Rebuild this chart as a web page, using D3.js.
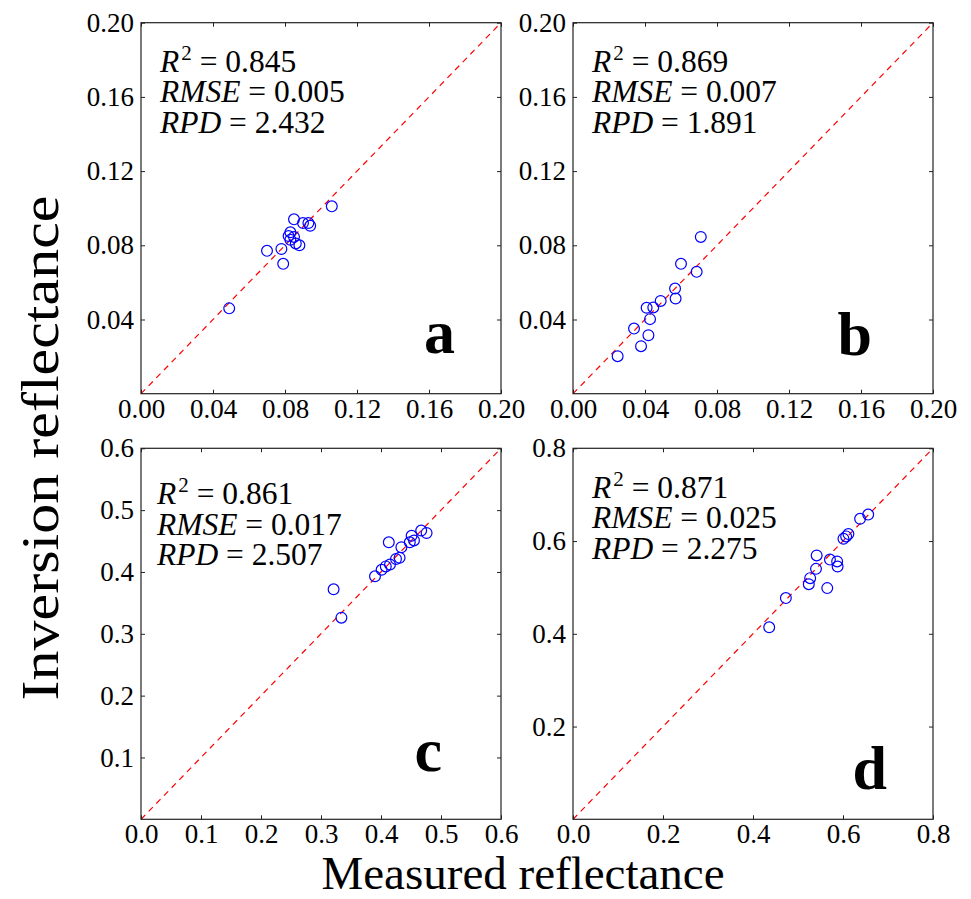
<!DOCTYPE html>
<html>
<head>
<meta charset="utf-8">
<script src="https://cdn.jsdelivr.net/npm/d3@7"></script>
<style>
  body { margin: 0; background: #fff; }
  svg text { font-family: "Liberation Serif", "Times New Roman", serif; fill: #000; }
</style>
</head>
<body>
<div id="chart"></div>
<script>
// measured vs inversion reflectance
const aMeasured  = [0.049, 0.070, 0.078, 0.079, 0.083, 0.082, 0.085, 0.083, 0.086, 0.088, 0.085, 0.090, 0.093, 0.094, 0.106];
const aInversion = [0.046, 0.077, 0.078, 0.070, 0.087, 0.085, 0.0845, 0.083, 0.081, 0.080, 0.094, 0.092, 0.092, 0.0905, 0.101];

const bMeasured  = [0.071, 0.060, 0.0687, 0.0567, 0.057, 0.0487, 0.0446, 0.0409, 0.0428, 0.0339, 0.0419, 0.0378, 0.0248];
const bInversion = [0.0845, 0.070, 0.0657, 0.0567, 0.0513, 0.050, 0.0465, 0.0463, 0.0402, 0.0351, 0.0315, 0.0256, 0.0202];

const cMeasured  = [0.321, 0.334, 0.390, 0.401, 0.408, 0.415, 0.425, 0.431, 0.413, 0.434, 0.448, 0.455, 0.451, 0.467, 0.476];
const cInversion = [0.372, 0.326, 0.393, 0.4035, 0.409, 0.412, 0.421, 0.423, 0.448, 0.440, 0.448, 0.451, 0.4585, 0.467, 0.463];

const dMeasured  = [0.436, 0.473, 0.524, 0.527, 0.540, 0.5415, 0.565, 0.571, 0.587, 0.588, 0.601, 0.607, 0.612, 0.638, 0.656];
const dInversion = [0.414, 0.477, 0.507, 0.520, 0.540, 0.569, 0.4985, 0.560, 0.556, 0.545, 0.605, 0.610, 0.615, 0.648, 0.657];

const abTicks = [0, 0.04, 0.08, 0.12, 0.16, 0.20];
const cTicks = [0, 0.1, 0.2, 0.3, 0.4, 0.5, 0.6];
const dTicks = [0, 0.2, 0.4, 0.6, 0.8];

const aStats = ["0.845", "0.005", "2.432"];
const bStats = ["0.869", "0.007", "1.891"];
const cStats = ["0.861", "0.017", "2.507"];
const dStats = ["0.871", "0.025", "2.275"];

const width = 971, height = 899;
const pw = 360, ph = 371;

const panels = [
  { letter: "a", x: 141, y: 22.7, mx: aMeasured, iy: aInversion, max: 0.2, ticks: abTicks, fmt: ".2f", stats: aStats, tx: 19, ty: 49, lx: 314, ly: 330 },
  { letter: "b", x: 573, y: 22.7, mx: bMeasured, iy: bInversion, max: 0.2, ticks: abTicks, fmt: ".2f", stats: bStats, tx: 19, ty: 49, lx: 299, ly: 332 },
  { letter: "c", x: 141, y: 448.3, mx: cMeasured, iy: cInversion, max: 0.6, ticks: cTicks, fmt: ".1f", stats: cStats, tx: 16, ty: 56, lx: 301, ly: 323 },
  { letter: "d", x: 573, y: 448.3, mx: dMeasured, iy: dInversion, max: 0.8, ticks: dTicks, fmt: ".1f", stats: dStats, tx: 19, ty: 49.5, lx: 314, ly: 341 }
];

const svg = d3.select("#chart").append("svg")
  .attr("width", width)
  .attr("height", height);

svg.append("rect").attr("width", width).attr("height", height).attr("fill", "#fff");

panels.forEach(p => {
  const g = svg.append("g").attr("transform", "translate(" + p.x + "," + p.y + ")");

  const x = d3.scaleLinear().domain([0, p.max]).range([0, pw]);
  const y = d3.scaleLinear().domain([0, p.max]).range([ph, 0]);
  const fmt = d3.format(p.fmt);
  const yTicks = p.ticks.slice(1); // no label at 0 on the y axis

  // 1:1 line
  g.append("line")
    .attr("x1", x(0)).attr("y1", y(0))
    .attr("x2", x(p.max)).attr("y2", y(p.max))
    .attr("stroke", "#ff0000")
    .attr("stroke-width", 1.2)
    .attr("stroke-dasharray", "6,5");

  // points
  g.selectAll(".pt")
    .data(p.mx.map((v, i) => [v, p.iy[i]]))
    .enter().append("circle")
    .attr("class", "pt")
    .attr("cx", d => x(d[0]))
    .attr("cy", d => y(d[1]))
    .attr("r", 5.4)
    .attr("fill", "none")
    .attr("stroke", "#0000ff")
    .attr("stroke-width", 1.2);

  // axes, ticks pointing inward on all sides
  const bottom = g.append("g").attr("transform", "translate(0," + ph + ")")
    .call(d3.axisBottom(x).tickValues(p.ticks).tickFormat(fmt).tickSizeInner(-4).tickSizeOuter(0).tickPadding(5));
  const left = g.append("g")
    .call(d3.axisLeft(y).tickValues(yTicks).tickFormat(fmt).tickSizeInner(-4).tickSizeOuter(0).tickPadding(7));
  g.append("g")
    .call(d3.axisTop(x).tickValues(p.ticks).tickFormat("").tickSizeInner(-4).tickSizeOuter(0));
  g.append("g").attr("transform", "translate(" + pw + ",0)")
    .call(d3.axisRight(y).tickValues(yTicks).tickFormat("").tickSizeInner(-4).tickSizeOuter(0));

  g.selectAll(".domain").remove();
  g.selectAll(".tick line").attr("stroke", "#222");
  [bottom, left].forEach(a => a.selectAll("text")
    .style("font-family", "'Liberation Serif', 'Times New Roman', serif")
    .style("font-size", "27px")
    .attr("fill", "#000"));

  g.append("rect")
    .attr("width", pw).attr("height", ph)
    .attr("fill", "none")
    .attr("stroke", "#222")
    .attr("stroke-width", 1.2);

  // stats block, one text with three lines
  const names = ["R", "RMSE", "RPD"];
  const t = g.append("text")
    .attr("x", p.tx).attr("y", p.ty)
    .style("font-size", "31.5px");
  names.forEach((n, i) => {
    t.append("tspan")
      .attr("x", p.tx)
      .attr("dy", i === 0 ? 0 : 30.5)
      .style("font-style", "italic")
      .text(n);
    if (i === 0) {
      t.append("tspan").attr("dx", 2).attr("dy", -12).style("font-size", "21px").text("2");
      t.append("tspan").attr("dy", 12).text(" = " + p.stats[i]);
    } else {
      t.append("tspan").text(" = " + p.stats[i]);
    }
  });

  g.append("text")
    .attr("x", p.lx).attr("y", p.ly)
    .attr("text-anchor", "end")
    .style("font-size", "62px")
    .style("font-weight", "bold")
    .text(p.letter);
});

svg.append("text")
  .attr("x", 523).attr("y", 889)
  .attr("text-anchor", "middle")
  .style("font-size", "47px")
  .text("Measured reflectance");

svg.append("text")
  .attr("transform", "translate(58,448) rotate(-90)")
  .attr("text-anchor", "middle")
  .attr("textLength", 505)
  .attr("lengthAdjust", "spacingAndGlyphs")
  .style("font-size", "52px")
  .text("Inversion reflectance");
</script>
</body>
</html>
